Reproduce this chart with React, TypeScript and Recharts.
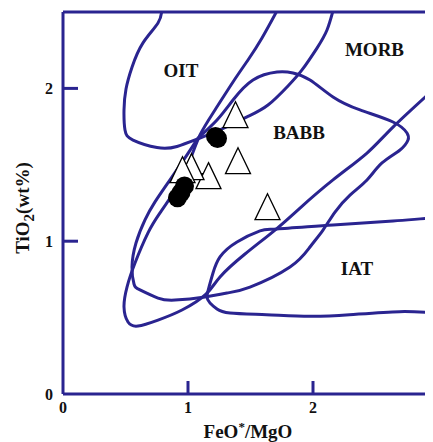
import React from 'react';
import { ScatterChart, Scatter, XAxis, YAxis, ReferenceLine } from 'recharts';

const BLUE = '#2a2490';
const FONT = '"Liberation Serif", "Times New Roman", serif';

const xTicks = [0, 1, 2];
const yTicks = [0, 1, 2];
const xTickMarks = [1, 2, 3];
const yTickMarks = [1, 2];

// Field boundaries (FeO*/MgO, TiO2)
const oitField = [
  { x: 0.792, y: 2.52 }, { x: 0.76, y: 2.428 }, { x: 0.64, y: 2.298 }, { x: 0.552, y: 2.139 },
  { x: 0.504, y: 1.996 }, { x: 0.488, y: 1.859 }, { x: 0.496, y: 1.727 }, { x: 0.56, y: 1.662 },
  { x: 0.752, y: 1.613 }, { x: 0.912, y: 1.62 }, { x: 1.096, y: 1.675 }, { x: 1.256, y: 1.728 },
  { x: 1.472, y: 1.813 }, { x: 1.64, y: 1.891 }, { x: 1.8, y: 2.016 }, { x: 1.912, y: 2.121 },
  { x: 2.032, y: 2.264 }, { x: 2.112, y: 2.382 }, { x: 2.164, y: 2.52 },
];

const morbField = [
  { x: 1.72, y: 2.52 }, { x: 1.592, y: 2.33 }, { x: 1.48, y: 2.186 }, { x: 1.36, y: 2.042 },
  { x: 1.216, y: 1.859 }, { x: 1.096, y: 1.695 }, { x: 1.016, y: 1.531 }, { x: 0.912, y: 1.355 },
  { x: 0.776, y: 1.185 }, { x: 0.68, y: 1.054 }, { x: 0.576, y: 0.857 }, { x: 0.512, y: 0.7 },
  { x: 0.488, y: 0.569 }, { x: 0.52, y: 0.471 }, { x: 0.6, y: 0.445 }, { x: 0.76, y: 0.484 },
  { x: 0.952, y: 0.55 }, { x: 1.144, y: 0.654 }, { x: 1.256, y: 0.766 }, { x: 1.456, y: 0.916 },
  { x: 1.696, y: 1.073 }, { x: 1.896, y: 1.217 }, { x: 2.16, y: 1.401 }, { x: 2.432, y: 1.577 },
  { x: 2.64, y: 1.747 }, { x: 2.96, y: 1.99 }, { x: 3.176, y: 2.153 },
];

const babbField = [
  { x: 1.08, y: 1.675 }, { x: 0.976, y: 1.545 }, { x: 0.856, y: 1.401 }, { x: 0.736, y: 1.257 },
  { x: 0.656, y: 1.139 }, { x: 0.584, y: 0.988 }, { x: 0.552, y: 0.831 }, { x: 0.568, y: 0.72 },
  { x: 0.616, y: 0.681 }, { x: 0.76, y: 0.628 }, { x: 0.896, y: 0.615 }, { x: 1.136, y: 0.635 },
  { x: 1.312, y: 0.661 }, { x: 1.496, y: 0.7 }, { x: 1.816, y: 0.831 }, { x: 1.976, y: 0.962 },
  { x: 2.08, y: 1.073 }, { x: 2.176, y: 1.191 }, { x: 2.296, y: 1.302 }, { x: 2.432, y: 1.401 },
  { x: 2.552, y: 1.512 }, { x: 2.696, y: 1.597 }, { x: 2.76, y: 1.662 }, { x: 2.752, y: 1.708 },
  { x: 2.64, y: 1.78 }, { x: 2.376, y: 1.859 }, { x: 2.16, y: 1.944 }, { x: 1.976, y: 2.055 },
  { x: 1.84, y: 2.101 }, { x: 1.712, y: 2.107 }, { x: 1.52, y: 2.055 }, { x: 1.36, y: 1.924 },
  { x: 1.232, y: 1.793 }, { x: 1.08, y: 1.675 },
];

const iatField = [
  { x: 3.176, y: 1.158 }, { x: 2.96, y: 1.152 }, { x: 2.64, y: 1.132 }, { x: 2.16, y: 1.106 },
  { x: 1.712, y: 1.08 }, { x: 1.576, y: 1.067 }, { x: 1.392, y: 0.995 }, { x: 1.256, y: 0.897 },
  { x: 1.2, y: 0.792 }, { x: 1.168, y: 0.7 }, { x: 1.152, y: 0.635 }, { x: 1.176, y: 0.596 },
  { x: 1.232, y: 0.556 }, { x: 1.336, y: 0.53 }, { x: 1.628, y: 0.519 }, { x: 1.972, y: 0.509 },
  { x: 2.292, y: 0.519 }, { x: 2.692, y: 0.539 }, { x: 2.96, y: 0.532 }, { x: 3.176, y: 0.53 },
];

// Samples
const triangleSamples = [
  { x: 1.38, y: 1.828 }, { x: 1.40, y: 1.527 }, { x: 1.164, y: 1.429 },
  { x: 1.636, y: 1.226 }, { x: 1.028, y: 1.488 }, { x: 0.956, y: 1.468 },
];
const circleSamples = [
  { x: 1.22, y: 1.686 }, { x: 1.236, y: 1.672 },
  { x: 0.972, y: 1.362 }, { x: 0.944, y: 1.318 }, { x: 0.916, y: 1.284 },
];

const fieldLabels = [
  { name: 'OIT', x: 0.944, y: 2.119 },
  { name: 'MORB', x: 2.492, y: 2.253 },
  { name: 'BABB', x: 1.888, y: 1.713 },
  { name: 'IAT', x: 2.352, y: 0.82 },
];

const Empty = () => <g />;

const Triangle = (p: any) => {
  const { cx, cy } = p;
  if (cx == null || cy == null) return <g />;
  const h = 13;
  const w = 12.5;
  return (
    <path
      d={`M${cx},${cy - h} L${cx + w},${cy + h} L${cx - w},${cy + h} Z`}
      fill="#fff"
      stroke="#000"
      strokeWidth={1.3}
    />
  );
};

const Dot = (p: any) => {
  const { cx, cy } = p;
  if (cx == null || cy == null) return <g />;
  return <circle cx={cx} cy={cy} r={9.5} fill="#000" />;
};

const FieldLabel = (p: any) => {
  const { cx, cy, payload } = p;
  if (cx == null || cy == null) return <g />;
  return (
    <text x={cx} y={cy} dy="0.35em" textAnchor="middle" fontFamily={FONT} fontWeight="bold" fontSize={19} fill="#111">
      {payload.name}
    </text>
  );
};

const XTitle = (props: any) => {
  const vb = props.viewBox || { x: 55, y: 386 };
  const x = vb.x + 185;
  const y = vb.y + 43.5;
  return (
    <text x={x} y={y} textAnchor="middle" fontFamily={FONT} fontWeight="bold" fontSize={19} fill="#111">
      FeO
      <tspan dy={-7} fontSize={13}>*</tspan>
      <tspan dy={7} fontSize={19}>/MgO</tspan>
    </text>
  );
};

const YTitle = (props: any) => {
  const vb = props.viewBox || { x: 0, y: 4 };
  const x = vb.x + 21;
  const y = vb.y + 196;
  return (
    <text
      x={x}
      y={y}
      textAnchor="middle"
      transform={`rotate(-90, ${x}, ${y})`}
      fontFamily={FONT}
      fontWeight="bold"
      fontSize={19}
      fill="#111"
    >
      TiO
      <tspan dy={5} fontSize={15}>2</tspan>
      <tspan dy={-5} fontSize={19}>(wt%)</tspan>
    </text>
  );
};

const tickStyle = { fill: '#111', fontSize: 16, fontWeight: 'bold', fontFamily: FONT };

export default function App() {
  return (
    <div style={{ width: 425, height: 434, overflow: 'hidden' }}>
      <ScatterChart width={440} height={434} margin={{ top: 4, right: 10, bottom: 0, left: 0 }}>
        <XAxis
          type="number"
          dataKey="x"
          domain={[0, 3]}
          ticks={xTicks}
          allowDataOverflow
          height={48}
          tickLine={false}
          tickSize={0}
          tickMargin={8}
          tick={tickStyle}
          axisLine={{ stroke: BLUE, strokeWidth: 3 }}
          label={{ content: XTitle }}
        />
        <YAxis
          type="number"
          dataKey="y"
          domain={[0, 2.5]}
          ticks={yTicks}
          allowDataOverflow
          width={55}
          tickLine={false}
          tickSize={0}
          tickMargin={10}
          tick={tickStyle}
          axisLine={{ stroke: BLUE, strokeWidth: 3 }}
          label={{ content: YTitle }}
        />
        <ReferenceLine y={2.5} stroke={BLUE} strokeWidth={3} />
        {yTickMarks.map((v) => (
          <ReferenceLine key={'yt' + v} segment={[{ x: 0, y: v }, { x: 0.12, y: v }]} stroke={BLUE} strokeWidth={3} />
        ))}
        {xTickMarks.map((v) => (
          <ReferenceLine key={'xt' + v} segment={[{ x: v, y: 0 }, { x: v, y: 0.085 }]} stroke={BLUE} strokeWidth={3} />
        ))}
        <Scatter data={oitField} line={{ stroke: BLUE, strokeWidth: 3 }} lineType="joint" lineJointType="natural" shape={Empty} isAnimationActive={false} />
        <Scatter data={morbField} line={{ stroke: BLUE, strokeWidth: 3 }} lineType="joint" lineJointType="natural" shape={Empty} isAnimationActive={false} />
        <Scatter data={babbField} line={{ stroke: BLUE, strokeWidth: 3 }} lineType="joint" lineJointType="natural" shape={Empty} isAnimationActive={false} />
        <Scatter data={iatField} line={{ stroke: BLUE, strokeWidth: 3 }} lineType="joint" lineJointType="natural" shape={Empty} isAnimationActive={false} />
        <Scatter data={fieldLabels} shape={FieldLabel} isAnimationActive={false} />
        <Scatter data={triangleSamples} shape={Triangle} isAnimationActive={false} />
        <Scatter data={circleSamples} shape={Dot} isAnimationActive={false} />
        <ReferenceLine segment={[{ x: 0.892, y: 1.438 }, { x: 1.124, y: 1.438 }]} stroke="#000" strokeWidth={2.5} />
      </ScatterChart>
    </div>
  );
}
